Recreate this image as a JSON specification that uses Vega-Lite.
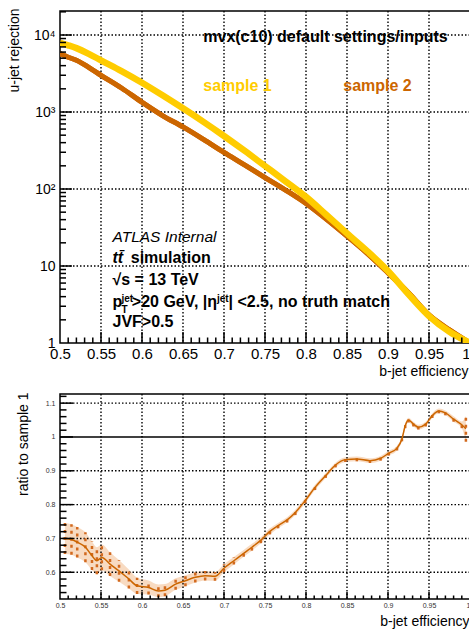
{
  "$schema": "https://vega.github.io/schema/vega-lite/v6.json",
  "background": "white",
  "padding": {"left": 6, "top": 7, "right": 0, "bottom": 0},
  "spacing": 12,
  "config": {
    "font": "Liberation Sans",
    "view": {"stroke": "#000", "strokeWidth": 1.5},
    "axis": {
      "domain": false,
      "ticks": false,
      "grid": false,
      "labelFont": "Liberation Sans",
      "titleFont": "Liberation Sans",
      "titleFontWeight": "normal",
      "labelColor": "#000",
      "titleColor": "#000",
      "labelOverlap": false,
      "labelFlush": false
    }
  },
  "datasets": {
    "xmaj": [{"v": 0.55}, {"v": 0.6}, {"v": 0.65}, {"v": 0.7}, {"v": 0.75}, {"v": 0.8}, {"v": 0.85}, {"v": 0.9}, {"v": 0.95}],
    "xmin": [
      {"v": 0.51}, {"v": 0.52}, {"v": 0.53}, {"v": 0.54}, {"v": 0.56}, {"v": 0.57}, {"v": 0.58}, {"v": 0.59},
      {"v": 0.61}, {"v": 0.62}, {"v": 0.63}, {"v": 0.64}, {"v": 0.66}, {"v": 0.67}, {"v": 0.68}, {"v": 0.69},
      {"v": 0.71}, {"v": 0.72}, {"v": 0.73}, {"v": 0.74}, {"v": 0.76}, {"v": 0.77}, {"v": 0.78}, {"v": 0.79},
      {"v": 0.81}, {"v": 0.82}, {"v": 0.83}, {"v": 0.84}, {"v": 0.86}, {"v": 0.87}, {"v": 0.88}, {"v": 0.89},
      {"v": 0.91}, {"v": 0.92}, {"v": 0.93}, {"v": 0.94}, {"v": 0.96}, {"v": 0.97}, {"v": 0.98}, {"v": 0.99}
    ],
    "ymajTop": [{"v": 10}, {"v": 100}, {"v": 1000}, {"v": 10000}],
    "yminTop": [
      {"v": 2}, {"v": 3}, {"v": 4}, {"v": 5}, {"v": 6}, {"v": 7}, {"v": 8}, {"v": 9},
      {"v": 20}, {"v": 30}, {"v": 40}, {"v": 50}, {"v": 60}, {"v": 70}, {"v": 80}, {"v": 90},
      {"v": 200}, {"v": 300}, {"v": 400}, {"v": 500}, {"v": 600}, {"v": 700}, {"v": 800}, {"v": 900},
      {"v": 2000}, {"v": 3000}, {"v": 4000}, {"v": 5000}, {"v": 6000}, {"v": 7000}, {"v": 8000}, {"v": 9000},
      {"v": 20000}
    ],
    "ymajBot": [{"v": 0.6}, {"v": 0.7}, {"v": 0.8}, {"v": 0.9}, {"v": 1.0}, {"v": 1.1}],
    "ygridBot": [{"v": 0.6}, {"v": 0.7}, {"v": 0.8}, {"v": 0.9}, {"v": 1.1}],
    "yminBot": [
      {"v": 0.54}, {"v": 0.56}, {"v": 0.58}, {"v": 0.62}, {"v": 0.64}, {"v": 0.66}, {"v": 0.68},
      {"v": 0.72}, {"v": 0.74}, {"v": 0.76}, {"v": 0.78}, {"v": 0.82}, {"v": 0.84}, {"v": 0.86}, {"v": 0.88},
      {"v": 0.92}, {"v": 0.94}, {"v": 0.96}, {"v": 0.98}, {"v": 1.02}, {"v": 1.04}, {"v": 1.06}, {"v": 1.08}, {"v": 1.12}
    ],
    "sample2": [
      {"eff": 0.5, "rej": 5750}, {"eff": 0.51, "rej": 5150}, {"eff": 0.52, "rej": 4700},
      {"eff": 0.535, "rej": 3800}, {"eff": 0.55, "rej": 3000}, {"eff": 0.575, "rej": 2050},
      {"eff": 0.6, "rej": 1340}, {"eff": 0.625, "rej": 900}, {"eff": 0.65, "rej": 640},
      {"eff": 0.675, "rej": 440}, {"eff": 0.7, "rej": 298}, {"eff": 0.725, "rej": 206},
      {"eff": 0.75, "rej": 141}, {"eff": 0.775, "rej": 97}, {"eff": 0.8, "rej": 65},
      {"eff": 0.825, "rej": 40.5}, {"eff": 0.85, "rej": 24.5}, {"eff": 0.875, "rej": 14.5},
      {"eff": 0.9, "rej": 8.15}, {"eff": 0.925, "rej": 4.5}, {"eff": 0.95, "rej": 2.32},
      {"eff": 0.975, "rej": 1.48}, {"eff": 1.0, "rej": 1.0}
    ],
    "sample1": [
      {"eff": 0.5, "rej": 7940}, {"eff": 0.51, "rej": 7350}, {"eff": 0.52, "rej": 6750},
      {"eff": 0.535, "rej": 5700}, {"eff": 0.55, "rej": 4690}, {"eff": 0.575, "rej": 3400},
      {"eff": 0.6, "rej": 2400}, {"eff": 0.625, "rej": 1650}, {"eff": 0.65, "rej": 1117},
      {"eff": 0.675, "rej": 745}, {"eff": 0.7, "rej": 488}, {"eff": 0.725, "rej": 314},
      {"eff": 0.75, "rej": 199}, {"eff": 0.775, "rej": 126}, {"eff": 0.8, "rej": 79},
      {"eff": 0.825, "rej": 46}, {"eff": 0.85, "rej": 26.5}, {"eff": 0.875, "rej": 15.5},
      {"eff": 0.9, "rej": 8.6}, {"eff": 0.925, "rej": 4.29}, {"eff": 0.95, "rej": 2.24},
      {"eff": 0.975, "rej": 1.4}, {"eff": 1.0, "rej": 1.0}
    ],
    "ratio": [
      {"eff": 0.506, "ratio": 0.700, "lo": 0.654, "hi": 0.746},
      {"eff": 0.514, "ratio": 0.697, "lo": 0.652, "hi": 0.742},
      {"eff": 0.521, "ratio": 0.689, "lo": 0.644, "hi": 0.734},
      {"eff": 0.531, "ratio": 0.674, "lo": 0.630, "hi": 0.718},
      {"eff": 0.539, "ratio": 0.649, "lo": 0.607, "hi": 0.691},
      {"eff": 0.545, "ratio": 0.634, "lo": 0.594, "hi": 0.674},
      {"eff": 0.551, "ratio": 0.644, "lo": 0.606, "hi": 0.682},
      {"eff": 0.561, "ratio": 0.624, "lo": 0.589, "hi": 0.659},
      {"eff": 0.572, "ratio": 0.604, "lo": 0.572, "hi": 0.636},
      {"eff": 0.584, "ratio": 0.580, "lo": 0.552, "hi": 0.608},
      {"eff": 0.594, "ratio": 0.560, "lo": 0.536, "hi": 0.584},
      {"eff": 0.608, "ratio": 0.555, "lo": 0.534, "hi": 0.576},
      {"eff": 0.620, "ratio": 0.545, "lo": 0.526, "hi": 0.564},
      {"eff": 0.628, "ratio": 0.547, "lo": 0.529, "hi": 0.565},
      {"eff": 0.641, "ratio": 0.565, "lo": 0.548, "hi": 0.582},
      {"eff": 0.653, "ratio": 0.575, "lo": 0.559, "hi": 0.591},
      {"eff": 0.665, "ratio": 0.585, "lo": 0.570, "hi": 0.600},
      {"eff": 0.677, "ratio": 0.590, "lo": 0.576, "hi": 0.604},
      {"eff": 0.689, "ratio": 0.588, "lo": 0.575, "hi": 0.601},
      {"eff": 0.700, "ratio": 0.612, "lo": 0.600, "hi": 0.624},
      {"eff": 0.712, "ratio": 0.634, "lo": 0.623, "hi": 0.645},
      {"eff": 0.724, "ratio": 0.656, "lo": 0.646, "hi": 0.666},
      {"eff": 0.734, "ratio": 0.674, "lo": 0.664, "hi": 0.684},
      {"eff": 0.745, "ratio": 0.695, "lo": 0.686, "hi": 0.704},
      {"eff": 0.756, "ratio": 0.721, "lo": 0.712, "hi": 0.730},
      {"eff": 0.766, "ratio": 0.738, "lo": 0.730, "hi": 0.746},
      {"eff": 0.777, "ratio": 0.755, "lo": 0.747, "hi": 0.763},
      {"eff": 0.787, "ratio": 0.777, "lo": 0.769, "hi": 0.785},
      {"eff": 0.799, "ratio": 0.812, "lo": 0.804, "hi": 0.820},
      {"eff": 0.811, "ratio": 0.851, "lo": 0.843, "hi": 0.859},
      {"eff": 0.824, "ratio": 0.886, "lo": 0.879, "hi": 0.893},
      {"eff": 0.836, "ratio": 0.917, "lo": 0.910, "hi": 0.924},
      {"eff": 0.848, "ratio": 0.933, "lo": 0.926, "hi": 0.940},
      {"eff": 0.862, "ratio": 0.935, "lo": 0.928, "hi": 0.942},
      {"eff": 0.878, "ratio": 0.930, "lo": 0.923, "hi": 0.937},
      {"eff": 0.891, "ratio": 0.937, "lo": 0.930, "hi": 0.944},
      {"eff": 0.901, "ratio": 0.952, "lo": 0.945, "hi": 0.959},
      {"eff": 0.911, "ratio": 0.967, "lo": 0.960, "hi": 0.974},
      {"eff": 0.917, "ratio": 0.994, "lo": 0.987, "hi": 1.001},
      {"eff": 0.921, "ratio": 1.033, "lo": 1.026, "hi": 1.040},
      {"eff": 0.925, "ratio": 1.050, "lo": 1.043, "hi": 1.057},
      {"eff": 0.931, "ratio": 1.038, "lo": 1.031, "hi": 1.045},
      {"eff": 0.937, "ratio": 1.029, "lo": 1.022, "hi": 1.036},
      {"eff": 0.946, "ratio": 1.038, "lo": 1.031, "hi": 1.045},
      {"eff": 0.954, "ratio": 1.063, "lo": 1.056, "hi": 1.070},
      {"eff": 0.962, "ratio": 1.077, "lo": 1.070, "hi": 1.084},
      {"eff": 0.970, "ratio": 1.071, "lo": 1.064, "hi": 1.078},
      {"eff": 0.980, "ratio": 1.053, "lo": 1.045, "hi": 1.061},
      {"eff": 0.990, "ratio": 1.036, "lo": 1.026, "hi": 1.046},
      {"eff": 0.995, "ratio": 1.024, "lo": 0.986, "hi": 1.062}
    ]
  },
  "vconcat": [
    {
      "width": 410,
      "height": 332,
      "layer": [
        {
          "data": {"name": "sample2"},
          "mark": {"type": "line", "color": "#CC6600", "strokeWidth": 5, "clip": true, "interpolate": "monotone"},
          "encoding": {
            "x": {
              "field": "eff", "type": "quantitative",
              "scale": {"domain": [0.5, 1], "nice": false, "zero": false},
              "axis": {
                "orient": "bottom",
                "values": [0.5, 0.55, 0.6, 0.65, 0.7, 0.75, 0.8, 0.85, 0.9, 0.95, 1],
                "format": "~g",
                "labelFontSize": 15,
                "labelPadding": 3,
                "labelAlign": {"condition": {"test": "datum.value > 0.999", "value": "right"}, "value": "center"},
                "title": "b-jet efficiency",
                "titleFontSize": 14,
                "titleAnchor": "end",
                "titleAlign": "right",
                "titleBaseline": "alphabetic",
                "titleX": 408,
                "titleY": 32
              }
            },
            "y": {
              "field": "rej", "type": "quantitative",
              "scale": {"type": "log", "domain": [1, 20500], "nice": false},
              "axis": {
                "orient": "left",
                "values": [1, 10, 100, 1000, 10000],
                "labelExpr": "datum.value >= 10000 ? '10⁴' : datum.value >= 1000 ? '10³' : datum.value >= 100 ? '10²' : datum.value >= 10 ? '10' : '1'",
                "labelFontSize": 14,
                "labelPadding": 5,
                "title": "u-jet rejection",
                "titleFontSize": 14,
                "titleAngle": -90,
                "titleAnchor": "end",
                "titleAlign": "right",
                "titleBaseline": "alphabetic",
                "titleX": -42,
                "titleY": -3
              }
            }
          }
        },
        {
          "data": {"name": "xmaj"},
          "mark": {"type": "rule", "color": "#000", "strokeWidth": 1.4, "strokeDash": [1.5, 2]},
          "encoding": {
            "x": {"field": "v", "type": "quantitative"}
          }
        },
        {
          "data": {"name": "ymajTop"},
          "mark": {"type": "rule", "color": "#000", "strokeWidth": 1.4, "strokeDash": [1.5, 2]},
          "encoding": {
            "y": {"field": "v", "type": "quantitative"}
          }
        },
        {
          "data": {"name": "sample2"},
          "mark": {"type": "line", "color": "#CC6600", "strokeWidth": 5, "clip": true, "interpolate": "monotone"},
          "encoding": {
            "x": {"field": "eff", "type": "quantitative"},
            "y": {"field": "rej", "type": "quantitative"}
          }
        },
        {
          "data": {"name": "sample1"},
          "mark": {"type": "line", "color": "#FFCC00", "strokeWidth": 6.5, "clip": true, "interpolate": "monotone"},
          "encoding": {
            "x": {"field": "eff", "type": "quantitative"},
            "y": {"field": "rej", "type": "quantitative"}
          }
        },
        {
          "data": {"name": "xmaj"},
          "mark": {"type": "tick", "orient": "vertical", "size": 22, "thickness": 1.5, "color": "#000", "opacity": 1, "clip": true},
          "encoding": {
            "x": {"field": "v", "type": "quantitative"},
            "y": {"datum": 1, "type": "quantitative"}
          }
        },
        {
          "data": {"name": "xmin"},
          "mark": {"type": "tick", "orient": "vertical", "size": 11, "thickness": 1.5, "color": "#000", "opacity": 1, "clip": true},
          "encoding": {
            "x": {"field": "v", "type": "quantitative"},
            "y": {"datum": 1, "type": "quantitative"}
          }
        },
        {
          "data": {"name": "ymajTop"},
          "mark": {"type": "tick", "orient": "horizontal", "size": 24, "thickness": 1.5, "color": "#000", "opacity": 1, "clip": true},
          "encoding": {
            "y": {"field": "v", "type": "quantitative"},
            "x": {"datum": 0.5, "type": "quantitative"}
          }
        },
        {
          "data": {"name": "yminTop"},
          "mark": {"type": "tick", "orient": "horizontal", "size": 12, "thickness": 1.5, "color": "#000", "opacity": 1, "clip": true},
          "encoding": {
            "y": {"field": "v", "type": "quantitative"},
            "x": {"datum": 0.5, "type": "quantitative"}
          }
        },
        {
          "data": {"values": [
            {"x": 0.6747, "y": 8190, "t": "mvx(c10) default settings/inputs"},
            {"x": 0.5863, "y": 10.94, "t": "simulation"},
            {"x": 0.564, "y": 5.67, "t": "√s = 13 TeV"},
            {"x": 0.564, "y": 2.93, "t": "p"},
            {"x": 0.5876, "y": 2.93, "t": ">20 GeV, |η"},
            {"x": 0.7055, "y": 2.93, "t": "| <2.5, no truth match"},
            {"x": 0.564, "y": 1.61, "t": "JVF>0.5"}
          ]},
          "mark": {"type": "text", "font": "Liberation Sans", "fontWeight": "bold", "fontSize": 16, "align": "left", "baseline": "alphabetic", "color": "#000"},
          "encoding": {
            "x": {"field": "x", "type": "quantitative"},
            "y": {"field": "y", "type": "quantitative"},
            "text": {"field": "t"}
          }
        },
        {
          "data": {"values": [{"x": 0.564, "y": 10.94, "t": "tt̄"}]},
          "mark": {"type": "text", "font": "Liberation Sans", "fontWeight": "bold", "fontStyle": "italic", "fontSize": 16, "align": "left", "baseline": "alphabetic", "color": "#000"},
          "encoding": {
            "x": {"field": "x", "type": "quantitative"},
            "y": {"field": "y", "type": "quantitative"},
            "text": {"field": "t"}
          }
        },
        {
          "data": {"values": [{"x": 0.564, "y": 20.5, "t": "ATLAS Internal"}]},
          "mark": {"type": "text", "font": "Liberation Sans", "fontStyle": "italic", "fontSize": 15.5, "align": "left", "baseline": "alphabetic", "color": "#000"},
          "encoding": {
            "x": {"field": "x", "type": "quantitative"},
            "y": {"field": "y", "type": "quantitative"},
            "text": {"field": "t"}
          }
        },
        {
          "data": {"values": [
            {"x": 0.575, "y": 3.41, "t": "jet"},
            {"x": 0.6915, "y": 3.41, "t": "jet"},
            {"x": 0.575, "y": 2.45, "t": "T"}
          ]},
          "mark": {"type": "text", "font": "Liberation Sans", "fontWeight": "bold", "fontSize": 10, "align": "left", "baseline": "alphabetic", "color": "#000"},
          "encoding": {
            "x": {"field": "x", "type": "quantitative"},
            "y": {"field": "y", "type": "quantitative"},
            "text": {"field": "t"}
          }
        },
        {
          "data": {"values": [{"x": 0.6747, "y": 1875, "t": "sample 1"}]},
          "mark": {"type": "text", "font": "Liberation Sans", "fontWeight": "bold", "fontSize": 16, "align": "left", "baseline": "alphabetic", "color": "#FFCC00"},
          "encoding": {
            "x": {"field": "x", "type": "quantitative"},
            "y": {"field": "y", "type": "quantitative"},
            "text": {"field": "t"}
          }
        },
        {
          "data": {"values": [{"x": 0.8454, "y": 1875, "t": "sample 2"}]},
          "mark": {"type": "text", "font": "Liberation Sans", "fontWeight": "bold", "fontSize": 16, "align": "left", "baseline": "alphabetic", "color": "#CC6600"},
          "encoding": {
            "x": {"field": "x", "type": "quantitative"},
            "y": {"field": "y", "type": "quantitative"},
            "text": {"field": "t"}
          }
        }
      ]
    },
    {
      "width": 410,
      "height": 205,
      "layer": [
        {
          "data": {"name": "ratio"},
          "mark": {"type": "area", "color": "#F6CFAE", "opacity": 0.75, "interpolate": "monotone", "clip": true},
          "encoding": {
            "x": {
              "field": "eff", "type": "quantitative",
              "scale": {"domain": [0.5, 1], "nice": false, "zero": false},
              "axis": {
                "orient": "bottom",
                "values": [0.5, 0.55, 0.6, 0.65, 0.7, 0.75, 0.8, 0.85, 0.9, 0.95, 1],
                "format": "~g",
                "labelFontSize": 7,
                "labelColor": "#333",
                "labelPadding": 2,
                "labelAlign": {"condition": {"test": "datum.value > 0.999", "value": "right"}, "value": "center"},
                "title": "b-jet efficiency",
                "titleFontSize": 14,
                "titleAnchor": "end",
                "titleAlign": "right",
                "titleBaseline": "alphabetic",
                "titleX": 409,
                "titleY": 26
              }
            },
            "y": {
              "field": "lo", "type": "quantitative",
              "scale": {"domain": [0.521, 1.127], "nice": false, "zero": false},
              "axis": {
                "orient": "left",
                "values": [0.6, 0.7, 0.8, 0.9, 1, 1.1],
                "format": "~g",
                "labelFontSize": 7,
                "labelColor": "#333",
                "labelPadding": 5,
                "title": "ratio to sample 1",
                "titleFontSize": 14,
                "titleAngle": -90,
                "titleAnchor": "end",
                "titleAlign": "right",
                "titleBaseline": "alphabetic",
                "titleX": -33,
                "titleY": -2
              }
            },
            "y2": {"field": "hi"}
          }
        },
        {
          "data": {"name": "xmaj"},
          "mark": {"type": "rule", "color": "#000", "strokeWidth": 1.4, "strokeDash": [1.5, 2]},
          "encoding": {
            "x": {"field": "v", "type": "quantitative"}
          }
        },
        {
          "data": {"name": "ygridBot"},
          "mark": {"type": "rule", "color": "#000", "strokeWidth": 1.4, "strokeDash": [1.5, 2]},
          "encoding": {
            "y": {"field": "v", "type": "quantitative"}
          }
        },
        {
          "data": {"name": "ratio"},
          "mark": {"type": "rule", "color": "#D2691E", "strokeWidth": 2.5, "strokeDash": [3, 4], "clip": true},
          "encoding": {
            "x": {"field": "eff", "type": "quantitative"},
            "y": {"field": "lo", "type": "quantitative"},
            "y2": {"field": "hi"}
          }
        },
        {
          "data": {"values": [{}]},
          "mark": {"type": "rule", "color": "#000", "strokeWidth": 1.5},
          "encoding": {
            "y": {"datum": 1, "type": "quantitative"}
          }
        },
        {
          "data": {"name": "ratio"},
          "mark": {"type": "line", "color": "#CC6600", "strokeWidth": 1.5, "interpolate": "monotone", "clip": true},
          "encoding": {
            "x": {"field": "eff", "type": "quantitative"},
            "y": {"field": "ratio", "type": "quantitative"}
          }
        },
        {
          "data": {"name": "xmaj"},
          "mark": {"type": "tick", "orient": "vertical", "size": 14, "thickness": 1.5, "color": "#000", "opacity": 1, "clip": true},
          "encoding": {
            "x": {"field": "v", "type": "quantitative"},
            "y": {"datum": 0.521, "type": "quantitative"}
          }
        },
        {
          "data": {"name": "xmin"},
          "mark": {"type": "tick", "orient": "vertical", "size": 7, "thickness": 1.5, "color": "#000", "opacity": 1, "clip": true},
          "encoding": {
            "x": {"field": "v", "type": "quantitative"},
            "y": {"datum": 0.521, "type": "quantitative"}
          }
        },
        {
          "data": {"name": "ymajBot"},
          "mark": {"type": "tick", "orient": "horizontal", "size": 26, "thickness": 1.5, "color": "#000", "opacity": 1, "clip": true},
          "encoding": {
            "y": {"field": "v", "type": "quantitative"},
            "x": {"datum": 0.5, "type": "quantitative"}
          }
        },
        {
          "data": {"name": "yminBot"},
          "mark": {"type": "tick", "orient": "horizontal", "size": 13, "thickness": 1.5, "color": "#000", "opacity": 1, "clip": true},
          "encoding": {
            "y": {"field": "v", "type": "quantitative"},
            "x": {"datum": 0.5, "type": "quantitative"}
          }
        }
      ]
    }
  ]
}
